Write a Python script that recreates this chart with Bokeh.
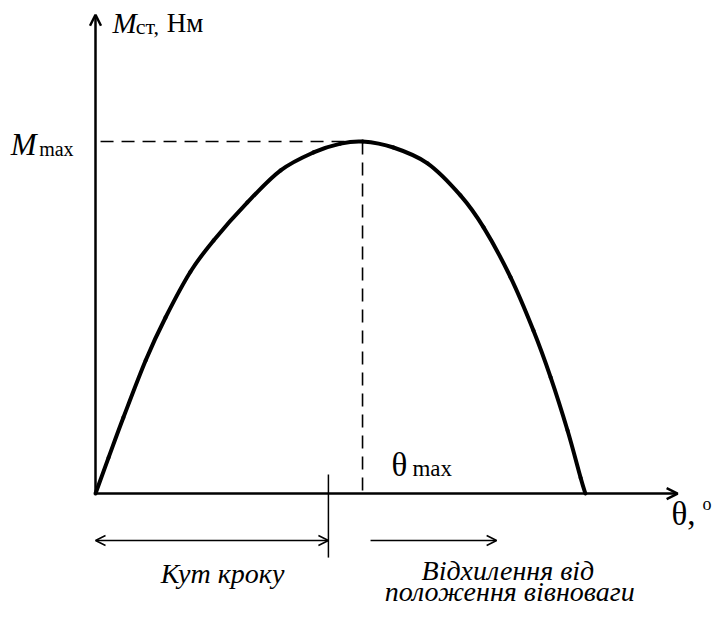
from bokeh.plotting import figure
from bokeh.models import Range1d, Arrow, OpenHead, ColumnDataSource
from bokeh.core.properties import value
from bokeh.embed import file_html
from bokeh.resources import INLINE

# Static torque vs. rotor angle (schematic curve, M normalised to M_max = 1)
theta = [0, 4.4, 9.4, 16.9, 23.6, 32.0, 39.8, 51.2, 62.4, 73.5, 82.6, 90.0,
         100.4, 111.9, 123.0, 130.8, 139.9, 147.6, 153.4, 159.1, 163.5, 165.1]
moment = [0, 0.102, 0.216, 0.378, 0.50, 0.630, 0.719, 0.827, 0.918, 0.969,
          0.994, 1.0, 0.983, 0.938, 0.847, 0.756, 0.614, 0.463, 0.330, 0.179,
          0.045, 0]

theta_max = 90.0
m_max = 1.0
step_angle = 78.5        # end of the "step angle" span
deviation_end = 135.2    # end of the "deviation from equilibrium" arrow

axis_x_end = 196.2
axis_y_end = 1.36

p = figure(width=716, height=621, output_backend="svg", toolbar_location=None,
           x_range=Range1d(-32.02, 209.3), y_range=Range1d(-0.3636, 1.4006),
           x_axis_type=None, y_axis_type=None, min_border=0)
p.grid.visible = False
p.outline_line_color = None
p.background_fill_color = "white"
p.border_fill_color = "white"

# coordinate axes with open arrow heads
p.add_layout(Arrow(x_start=0, y_start=0, x_end=axis_x_end, y_end=0,
                   line_width=2.5, line_color="black",
                   end=OpenHead(size=11, line_width=2.5, line_color="black")))
p.add_layout(Arrow(x_start=0, y_start=0, x_end=0, y_end=axis_y_end,
                   line_width=2.5, line_color="black",
                   end=OpenHead(size=11, line_width=2.5, line_color="black")))

# dashed guides to the maximum
p.line([1.7, theta_max], [m_max, m_max], line_dash="13 8", line_width=1.6,
       line_color="black")
p.line([theta_max, theta_max], [m_max, 0], line_dash="13 8", line_width=1.6,
       line_color="black")

# torque curve: cubic Bezier segments through the points (Catmull-Rom tangents)
n = len(theta)
x0, y0, x1, y1, cx0, cy0, cx1, cy1 = ([] for _ in range(8))
for i in range(n - 1):
    xa, ya = theta[i], moment[i]
    xb, yb = theta[i + 1], moment[i + 1]
    xp, yp = (theta[i - 1], moment[i - 1]) if i > 0 else (xa, ya)
    xn, yn = (theta[i + 2], moment[i + 2]) if i + 2 < n else (xb, yb)
    x0.append(xa); y0.append(ya); x1.append(xb); y1.append(yb)
    cx0.append(xa + (xb - xp) / 6); cy0.append(ya + (yb - yp) / 6)
    cx1.append(xb - (xn - xa) / 6); cy1.append(yb - (yn - ya) / 6)
curve = ColumnDataSource(dict(x0=x0, y0=y0, x1=x1, y1=y1,
                              cx0=cx0, cy0=cy0, cx1=cx1, cy1=cy1))
p.bezier(x0="x0", y0="y0", x1="x1", y1="y1", cx0="cx0", cy0="cy0",
         cx1="cx1", cy1="cy1", source=curve, line_width=4,
         line_color="black", line_cap="round")

# step angle span and deviation arrow
p.add_layout(Arrow(x_start=0, y_start=-0.1335, x_end=step_angle, y_end=-0.1335,
                   line_width=1.5, line_color="black",
                   start=OpenHead(size=10, line_width=1.5, line_color="black"),
                   end=OpenHead(size=10, line_width=1.5, line_color="black")))
p.line([step_angle, step_angle], [0.054, -0.182], line_width=1.5,
       line_color="black")
p.add_layout(Arrow(x_start=92.7, y_start=-0.1335, x_end=deviation_end,
                   y_end=-0.1335, line_width=1.5, line_color="black",
                   end=OpenHead(size=10, line_width=1.5, line_color="black")))

FONT = value("Liberation Serif")


def label(x, y, text, size, style="normal", align="left"):
    src = ColumnDataSource(dict(x=[x], y=[y], t=[text]))
    p.text(x="x", y="y", text="t", source=src, text_font=FONT,
           text_font_size=size, text_font_style=style, text_align=align,
           text_baseline="alphabetic", text_color="black")


# y axis title: M_ст, Нм
label(5.7, 1.338, "M", "29px", "italic")
label(13.6, 1.326, "ст,", "22px")
label(24.0, 1.338, "Нм", "27px")

# M_max
label(-28.6, 0.991, "M", "31px", "italic")
label(-19.0, 0.980, "max", "20px")

# θ_max
label(99.8, 0.080, "θ", "33px")
label(106.8, 0.071, "max", "23px")

# x axis title: θ, °
label(194.1, -0.057, "θ,", "33px")
label(204.6, -0.030, "o", "18px")

# span captions
label(42.8, -0.227, "Кут кроку", "28px", "italic", "center")
label(139.0, -0.219, "Відхилення від", "28px", "italic", "center")
label(139.6, -0.278, "положення вівноваги", "28px", "italic", "center")

open("out.html", "w").write(file_html(p, INLINE))
